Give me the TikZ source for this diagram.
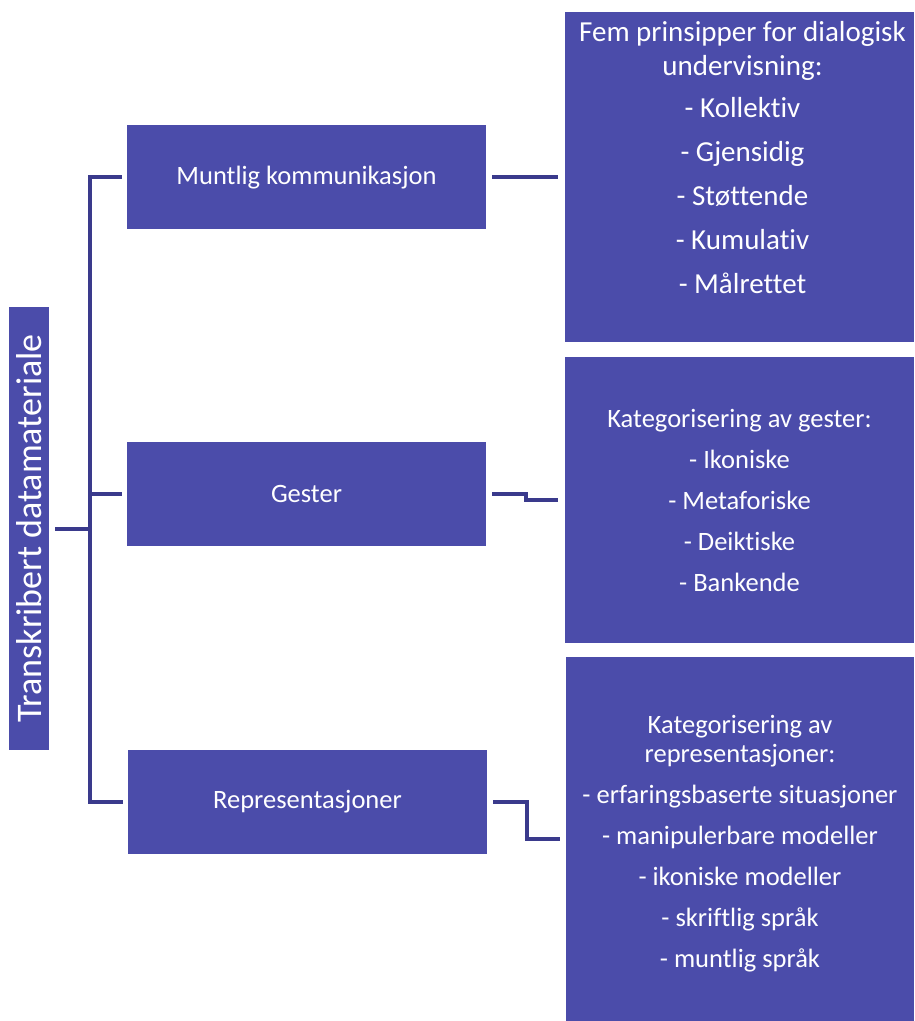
\documentclass[tikz,border=0pt]{standalone}
\usepackage{fontspec}
\setmainfont{Carlito}[Ligatures=NoCommon]
\usetikzlibrary{positioning, calc}

\definecolor{boxblue}{RGB}{75,76,170}
\definecolor{linkblue}{RGB}{58,58,140}

\tikzset{
	sortbox/.style={fill=boxblue, text=white, inner sep=0pt, align=center},
	midbox/.style={sortbox, minimum width=359pt, minimum height=104pt, font=\fontsize{26.5}{32}\selectfont},
	outbox/.style={sortbox, minimum width=349pt, font=\fontsize{26.5}{32}\selectfont},
	boxtext/.style={text=white, inner sep=0pt, align=center, font=\fontsize{26.5}{32}\selectfont},
	link/.style={draw=linkblue, line width=4pt},
}

\begin{document}
\begin{tikzpicture}[x=1pt, y=-1pt]
	\useasboundingbox (0,0) rectangle (914,1021);
	% root, turned on its side
	\node at (29,528.5) [sortbox, rotate=90, minimum width=443pt, minimum height=40pt, font=\fontsize{36}{40}\selectfont] (root) {Transkribert datamateriale};
	% the three kinds of data
	\node at (306.5,177) [midbox, text depth=4pt] (muntlig) {Muntlig kommunikasjon};
	\node at (306.5,493.5) [midbox] (gester) {Gester};
	\node at (307.5,801.5) [midbox] (repr) {Representasjoner};
	% what each one is sorted by
	\node at (739.5,177) [outbox, minimum height=330pt] (fem) {};
	\node at ([xshift=3pt, yshift=19pt]fem.center) [boxtext, font=\fontsize{29}{34}\selectfont] (femtext) {Fem prinsipper for dialogisk\\ undervisning:\\[8pt] - Kollektiv\\[10pt] - Gjensidig\\[10pt] - Støttende\\[10pt] - Kumulativ\\[10pt] - Målrettet};
	\node at (739.5,500) [outbox, minimum height=286pt] (gestkat) {Kategorisering av gester:\\[9pt] - Ikoniske\\[9pt] - Metaforiske\\[9pt] - Deiktiske\\[9pt] - Bankende};
	\node at (740,839) [outbox, minimum width=348pt, minimum height=364pt] (repkat) {};
	\node at ([yshift=-5pt]repkat.center) [boxtext] (repkattext) {Kategorisering av\\[-3pt] representasjoner:\\[9pt] - erfaringsbaserte situasjoner\\[9pt] - manipulerbare modeller\\[9pt] - ikoniske modeller\\[9pt] - skriftlig språk\\[9pt] - muntlig språk};

	\coordinate (fork) at (90,528.5);
	\draw[link, shorten <=6pt] (root.south) -- (fork);
	\draw[link, shorten >=5pt] (fork) |- (muntlig.west);
	\draw[link, shorten >=5pt] (fork) |- (gester.west);
	\draw[link, shorten >=5pt] (fork) |- (repr.west);

	\draw[link, shorten <=6pt, shorten >=7pt] (muntlig.east) -- (fem.west);
	\draw[link, shorten <=6pt, shorten >=7pt] (gester.east) -| ($(gester.east)!.5!(gestkat.west)$) |- (gestkat.west);
	\draw[link, shorten <=6pt, shorten >=6pt] (repr.east) -| ($(repr.east)!.5!(repkat.west)$) |- (repkat.west);
\end{tikzpicture}
\end{document}
